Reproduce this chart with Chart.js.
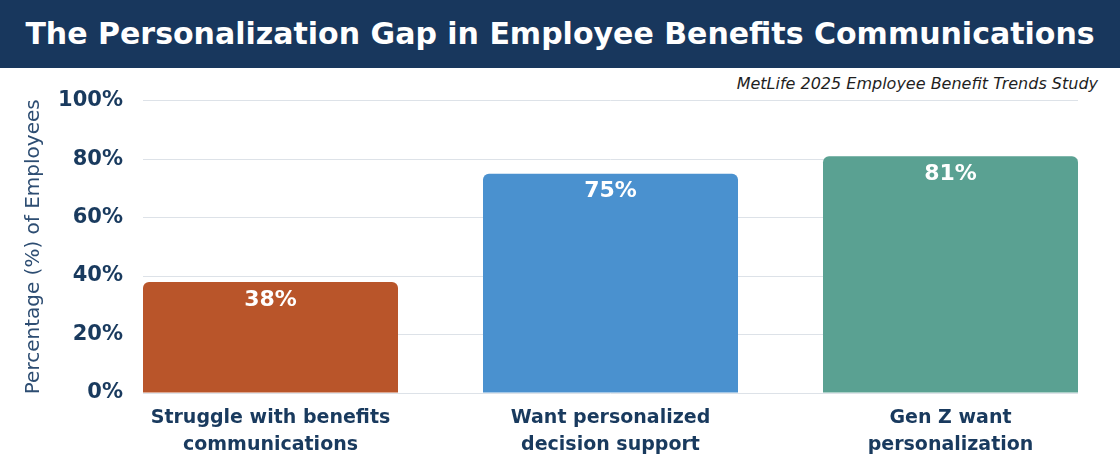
<!DOCTYPE html>
<html lang="en">
<head>
<meta charset="UTF-8">
<title>The Personalization Gap in Employee Benefits Communications</title>
<script src="https://cdn.jsdelivr.net/npm/chart.js@4.4.1/dist/chart.umd.min.js"></script>
<style>
  html, body { margin: 0; padding: 0; background: #ffffff; overflow: hidden; }
  body { width: 1120px; height: 461px; position: relative; font-family: "DejaVu Sans", sans-serif; }
  .cabecera {
    position: absolute; left: 0; top: 0; width: 1120px; height: 68px;
    background: #18375d; color: #ffffff; font-weight: bold; font-size: 30px;
    line-height: 68px; text-align: center; white-space: nowrap;
  }
  .fuente {
    position: absolute; right: 22px; top: 74px; font-size: 16px; font-style: italic;
    line-height: 20px; color: #1f1f1f; white-space: nowrap;
  }
  .grafico { position: absolute; left: 0; top: 68px; width: 1120px; height: 393px; }
</style>
</head>
<body>
<div class="cabecera">The Personalization Gap in Employee Benefits Communications</div>
<div class="fuente">MetLife 2025 Employee Benefit Trends Study</div>
<div class="grafico"><canvas id="chartBrecha"></canvas></div>
<script>
// Datos del gráfico
const categorias = [
  ["Struggle with benefits", "communications"],
  ["Want personalized", "decision support"],
  ["Gen Z want", "personalization"],
];
const posiciones = [0, 1, 2];
const valores = [38, 75, 81];
const ticksY = [0, 20, 40, 60, 80, 100];
const colores = ["#b9552a", "#4a91cf", "#5aa192"];

const azulTexto = "#193a5e";

// Plugin para escribir el porcentaje dentro de cada barra
const etiquetasValores = {
  id: "etiquetasValores",
  afterDatasetsDraw(chart) {
    const ctx = chart.ctx;
    const meta = chart.getDatasetMeta(0);
    ctx.save();
    ctx.fillStyle = "#ffffff";
    ctx.font = "bold 22px 'DejaVu Sans', sans-serif";
    ctx.textAlign = "center";
    ctx.textBaseline = "middle";
    meta.data.forEach((barra, i) => {
      ctx.fillText(valores[i] + "%", barra.x, barra.y + 18);
    });
    ctx.restore();
  },
};

document.addEventListener("DOMContentLoaded", () => {
  const ctx = document.getElementById("chartBrecha").getContext("2d");
  crearGrafico(ctx);
});

function crearGrafico(ctx) {
  Chart.defaults.font.family = "'DejaVu Sans', sans-serif";

  new Chart(ctx, {
    type: "bar",
    data: {
      datasets: [
        {
          data: posiciones.map((x, i) => ({ x: x, y: valores[i] })),
          backgroundColor: colores,
          borderWidth: 0,
          borderRadius: 6,
          categoryPercentage: 1,
          barPercentage: 0.75,
        },
      ],
    },
    options: {
      responsive: true,
      maintainAspectRatio: false,
      animation: false,
      layout: {
        padding: { top: 29, right: 42, bottom: 0, left: 0 },
      },
      plugins: {
        legend: { display: false },
        tooltip: { enabled: false },
      },
      scales: {
        x: {
          type: "linear",
          min: -0.375,
          max: 2.375,
          offset: false,
          grid: { display: false, offset: false },
          border: { display: false },
          afterBuildTicks: (scale) => {
            scale.ticks = posiciones.map((v) => ({ value: v }));
          },
          afterFit: (scale) => {
            scale.height = 68;
          },
          ticks: {
            autoSkip: false,
            maxRotation: 0,
            padding: 4,
            color: azulTexto,
            font: { size: 19, weight: "bold", lineHeight: 1.42 },
            callback: (value) => categorias[value],
          },
        },
        y: {
          min: 0,
          max: 100,
          grid: { color: "#dde2e8", lineWidth: 1, drawTicks: false },
          border: { display: false },
          afterBuildTicks: (scale) => {
            scale.ticks = ticksY.map((v) => ({ value: v }));
          },
          afterFit: (scale) => {
            scale.width = 143;
          },
          ticks: {
            padding: 20,
            color: azulTexto,
            font: { size: 21, weight: "bold" },
            callback: (value) => value + "%",
          },
          title: {
            display: true,
            text: "Percentage (%) of Employees",
            color: "#2d4d72",
            font: { size: 20, weight: "normal" },
            padding: { top: 22, bottom: 0 },
          },
        },
      },
    },
    plugins: [etiquetasValores],
  });
}
</script>
</body>
</html>
